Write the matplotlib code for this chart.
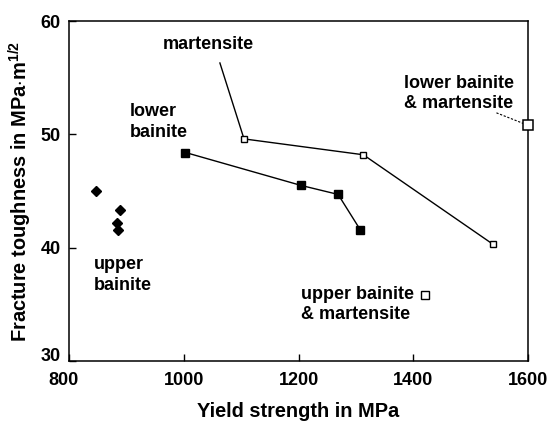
import matplotlib
matplotlib.use("Agg")
import matplotlib.pyplot as plt
import matplotlib.transforms as mtransforms

plt.rcParams['font.family'] = ['Liberation Sans', 'DejaVu Sans']
plt.rcParams['font.weight'] = 'bold'
plt.rcParams['mathtext.fontset'] = 'custom'
plt.rcParams['mathtext.rm'] = 'Liberation Sans'
plt.rcParams['mathtext.bf'] = 'Liberation Sans:bold'

# Data
upper_bainite_x = [847, 889, 883, 886]
upper_bainite_y = [45.0, 43.3, 42.15, 41.6]

lower_bainite_x = [1003, 1204, 1269, 1308]
lower_bainite_y = [48.4, 45.5, 44.7, 41.55]

martensite_x = [1105, 1313, 1539]
martensite_y = [49.6, 48.2, 40.3]

lb_mart_x = [1600]
lb_mart_y = [50.8]

ub_mart_x = [1420]
ub_mart_y = [35.8]

x_ticks = [800, 1000, 1200, 1400, 1600]
y_ticks = [30, 40, 50, 60]

fig = plt.figure(figsize=(5.5, 4.21), dpi=100)
ax = fig.add_axes([0.1255, 0.1425, 0.8345, 0.8075])

fs = 13
fs_lab = 14.4
ax.plot(upper_bainite_x, upper_bainite_y, linestyle='none', marker='D', ms=5.5,
        color='black', zorder=3)
ax.plot(lower_bainite_x, lower_bainite_y, '-', color='black', lw=1,
        marker='s', ms=5.5, mfc='black', mec='black', zorder=3)
ax.plot(martensite_x, martensite_y, '-', color='black', lw=1,
        marker='s', ms=5, mfc='white', mec='black', mew=1, zorder=3)
ax.plot(lb_mart_x, lb_mart_y, linestyle='none', marker='s', ms=7.5,
        mfc='white', mec='black', mew=1.1, clip_on=False, zorder=4)
ax.plot(ub_mart_x, ub_mart_y, linestyle='none', marker='s', ms=5.5,
        mfc='white', mec='black', mew=1, zorder=3)

# leader lines
ax.plot([1063, martensite_x[0]], [56.3, martensite_y[0]], color='black', lw=1, zorder=2)
ax.plot([1545, lb_mart_x[0]], [51.9, lb_mart_y[0]], color='black', lw=0.8,
        linestyle=(0, (2, 1.5)), zorder=2, clip_on=False)

ax.text(1042, 57.9, 'martensite', fontsize=fs, fontweight='bold', ha='center', va='center')
ax.text(906, 51.1, 'lower\nbainite', fontsize=fs, fontweight='bold', ha='left', va='center',
        linespacing=1.25)
ax.text(843, 37.6, 'upper\nbainite', fontsize=fs, fontweight='bold', ha='left', va='center',
        linespacing=1.25)
ax.text(1205, 35.0, 'upper bainite\n& martensite', fontsize=fs, fontweight='bold',
        ha='left', va='center', linespacing=1.25)
ax.text(1384, 53.6, 'lower bainite\n& martensite', fontsize=fs, fontweight='bold',
        ha='left', va='center', linespacing=1.25)

ax.set_xlim(800, 1600)
ax.set_ylim(30, 60)
ax.set_xticks(x_ticks)
ax.set_yticks(y_ticks)
ax.tick_params(direction='in', length=5, width=1, labelsize=fs)
ax.tick_params(axis='x', pad=8)
ax.tick_params(axis='y', pad=6)
for lab in ax.get_xticklabels() + ax.get_yticklabels():
    lab.set_fontweight('bold')
for s in ax.spines.values():
    s.set_linewidth(1.1)

# shift corner labels apart as in the reference
xl = ax.get_xticklabels()
yl = ax.get_yticklabels()
xl[0].set_transform(xl[0].get_transform() + mtransforms.ScaledTranslation(-6/100, 0, fig.dpi_scale_trans))
yl[0].set_transform(yl[0].get_transform() + mtransforms.ScaledTranslation(0, 7/100, fig.dpi_scale_trans))

ax.set_xlabel('Yield strength in MPa', fontsize=fs_lab, fontweight='bold', labelpad=9)
ax.set_ylabel(r'Fracture toughness in MPa$\cdot$m$^{\mathrm{1/2}}$', fontsize=fs_lab,
              fontweight='bold', labelpad=5)

fig.savefig('out.png', dpi=100)
